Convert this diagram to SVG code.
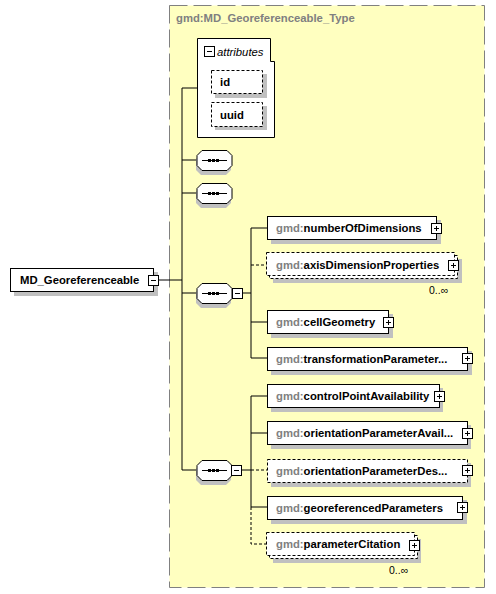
<svg xmlns="http://www.w3.org/2000/svg" width="496" height="594" viewBox="0 0 496 594">
<style>
.t{font-family:"Liberation Sans",Arial,sans-serif;font-size:11.3px;font-weight:bold;fill:#000}
.p{fill:#808080}
.box{fill:#fff;stroke:#000;stroke-width:1}
.dbox{fill:#fff;stroke:#000;stroke-width:1;stroke-dasharray:3,2}
.sh{fill:#c0c0c0}
.ln{stroke:#000;stroke-width:1;fill:none}
.dl{stroke:#000;stroke-width:1;fill:none;stroke-dasharray:3,2}
.card{font-family:"Liberation Sans",Arial,sans-serif;font-size:10.5px;fill:#000}
</style>
<defs>
<g id="plus"><rect x="0.5" y="0.5" width="10" height="10" fill="#fff" stroke="#000"/><path d="M1 10.5H11M10.5 1V11" stroke="#000"/><path d="M3 5.5H8M5.5 3V8" stroke="#000"/></g>
<g id="minus"><rect x="0.5" y="0.5" width="10" height="10" fill="#fff" stroke="#000"/><path d="M1 10.5H11M10.5 1V11" stroke="#000"/><path d="M3 5.5H8" stroke="#000"/></g>
<g id="seq">
<path d="M4 4H29L34 9V20L29 25H4L-1 20V9Z" class="sh"/>
<path d="M5 0.5H30L35 5.5V15.5L30 20.5H5L0 15.5V5.5Z" fill="#fff" stroke="#000"/>
<path d="M5 10.5H30" stroke="#000"/>
<rect x="11" y="9" width="3" height="3"/><rect x="15" y="9" width="3" height="3"/><rect x="19" y="9" width="3" height="3"/>
</g>
</defs>

<rect id="type-bg" x="169.5" y="5.5" width="315" height="582" fill="#ffffc0" stroke="#808080" stroke-dasharray="18,6"/>
<text x="176" y="22" class="t p">gmd:MD_Georeferenceable_Type</text>

<g id="connectors">
<path class="ln" d="M182 88H197M182 88V470M159 280H182M182 160H197M182 193H197M182 293H197M182 470H197"/>
<path class="ln" d="M243 293H251M251 228V358M251 228H267M251 322H267M251 358H267"/>
<path class="dl" d="M251 265H267"/>
<path class="ln" d="M242 470H251M251 396V507M251 396H267M251 433H267M251 507H267"/>
<path class="dl" d="M251 470H267M251 507V544H267"/>
</g>

<g id="attributes">
<path d="M197.5 38.5H270.5V61.5H274.5V137.5H197.5Z" class="box"/>
<use href="#minus" x="204" y="46"/>
<text x="217" y="56" class="t" style="font-weight:normal;font-style:italic">attributes</text>
</g>
<g id="attr-id">
<rect x="215" y="74" width="52" height="24" class="sh"/>
<rect x="211.5" y="70.5" width="51" height="23" class="dbox"/>
<text x="220" y="86" class="t">id</text>
</g>
<g id="attr-uuid">
<rect x="215" y="106" width="52" height="24" class="sh"/>
<rect x="211.5" y="102.5" width="51" height="24" class="dbox"/>
<text x="220" y="119" class="t">uuid</text>
</g>

<g id="root">
<rect x="14" y="272" width="144" height="24" class="sh"/>
<rect x="10.5" y="268.5" width="143" height="23" class="box"/>
<text x="20" y="284" class="t">MD_Georeferenceable</text>
<use href="#minus" x="148" y="275"/>
</g>

<g id="seq1"><use href="#seq" x="197" y="150"/></g>
<g id="seq2"><use href="#seq" x="197" y="183"/></g>
<g id="seq3"><use href="#seq" x="197" y="283"/><use href="#minus" x="232" y="288"/></g>
<g id="seq4"><use href="#seq" x="197" y="460"/><use href="#minus" x="231" y="465"/></g>

<g id="numberOfDimensions">
<rect x="271" y="220" width="170" height="24" class="sh"/>
<rect x="267.5" y="216.5" width="169" height="23" class="box"/>
<text x="276" y="232" class="t"><tspan class="p">gmd:</tspan>numberOfDimensions</text>
<use href="#plus" x="431" y="223"/>
</g>

<g id="axisDimensionProperties">
<rect x="273" y="259" width="189" height="24" class="sh"/>
<rect x="269.5" y="255.5" width="188" height="23" class="dbox"/>
<rect x="266.5" y="252.5" width="188" height="23" class="dbox"/>
<text x="276" y="269" class="t"><tspan class="p">gmd:</tspan>axisDimensionProperties</text>
<use href="#plus" x="448" y="260"/>
<text x="429" y="294" class="card">0..∞</text>
</g>

<g id="cellGeometry">
<rect x="271" y="314" width="122" height="24" class="sh"/>
<rect x="267.5" y="310.5" width="121" height="23" class="box"/>
<text x="276" y="326" class="t"><tspan class="p">gmd:</tspan>cellGeometry</text>
<use href="#plus" x="383" y="317"/>
</g>

<g id="transformationParameter">
<rect x="271" y="351" width="201" height="24" class="sh"/>
<rect x="267.5" y="347.5" width="200" height="23" class="box"/>
<text x="276" y="363" class="t"><tspan class="p">gmd:</tspan>transformationParameter...</text>
<use href="#plus" x="462" y="353"/>
</g>

<g id="controlPointAvailability">
<rect x="271" y="388" width="172" height="24" class="sh"/>
<rect x="267.5" y="384.5" width="172" height="23" class="box"/>
<text x="276" y="400" class="t"><tspan class="p">gmd:</tspan>controlPointAvailability</text>
<use href="#plus" x="434" y="391"/>
</g>

<g id="orientationParameterAvail">
<rect x="271" y="425" width="200" height="24" class="sh"/>
<rect x="267.5" y="421.5" width="200" height="23" class="box"/>
<text x="276" y="437" class="t"><tspan class="p">gmd:</tspan>orientationParameterAvail...</text>
<use href="#plus" x="462" y="428"/>
</g>

<g id="orientationParameterDes">
<rect x="271" y="463" width="200" height="24" class="sh"/>
<rect x="267.5" y="459.5" width="200" height="23" class="dbox"/>
<text x="276" y="475" class="t"><tspan class="p">gmd:</tspan>orientationParameterDes...</text>
<use href="#plus" x="462" y="465"/>
</g>

<g id="georeferencedParameters">
<rect x="271" y="500" width="196" height="24" class="sh"/>
<rect x="267.5" y="496.5" width="195" height="23" class="box"/>
<text x="276" y="512" class="t"><tspan class="p">gmd:</tspan>georeferencedParameters</text>
<use href="#plus" x="457" y="502"/>
</g>

<g id="parameterCitation">
<rect x="273" y="539" width="148" height="24" class="sh"/>
<rect x="269.5" y="535.5" width="148" height="23" class="dbox"/>
<rect x="266.5" y="532.5" width="148" height="23" class="dbox"/>
<text x="276" y="548" class="t"><tspan class="p">gmd:</tspan>parameterCitation</text>
<use href="#plus" x="409" y="540"/>
<text x="389" y="574" class="card">0..∞</text>
</g>
</svg>
